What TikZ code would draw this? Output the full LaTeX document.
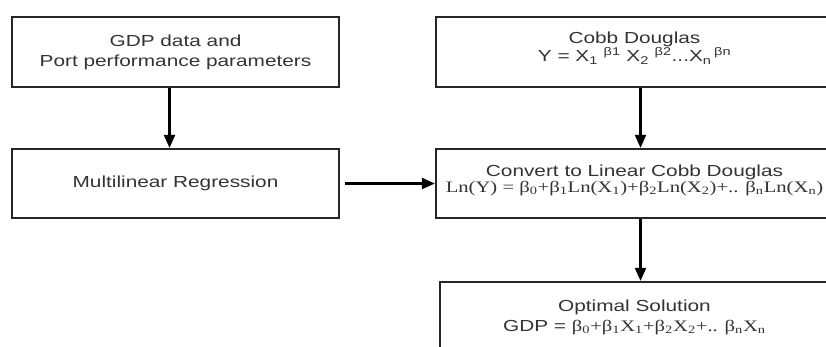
\documentclass[tikz,border=0pt]{standalone}
\usepackage{fontspec}
\usepackage{graphicx}
\setmainfont[FakeStretch=1.3]{Liberation Sans}
\newfontfamily\seriffam{Liberation Serif}
\newcommand{\serifeq}[1]{\scalebox{1.29}[1]{\seriffam\fontsize{16}{14}\selectfont #1}}
\usetikzlibrary{arrows.meta}
\begin{document}
\begin{tikzpicture}[x=1pt,y=-1pt]
\useasboundingbox (0,0) rectangle (826,347);
\clip (0,0) rectangle (826,347);
\tikzset{
  box/.style={draw=black!85, line width=2.2pt, inner sep=0pt},
  txt/.style={align=center, text=black!80, inner sep=0pt,
    font=\fontsize{16}{20}\selectfont},
  conn/.style={draw=black, line width=2.2pt, -{Triangle[length=13pt,width=11pt]}}
}
\node[box, minimum width=327pt, minimum height=70pt] (gdp) at (175.5,52) {};
\node[txt] (gdptext) at (gdp) {GDP data and\\Port performance parameters};
\node[box, minimum width=327pt, minimum height=69pt] (mlr) at (175.5,183.5) {};
\node[txt] (mlrtext) at (mlr) {Multilinear Regression};
\node[box, minimum width=397pt, minimum height=70pt] (cobb) at (634.5,52) {};
\node[txt, font=\fontsize{16}{14}\selectfont, yshift=4pt] (cobbtext) at (cobb)
  {Cobb Douglas\\Y = X\textsubscript{1} \textsuperscript{β1} X\textsubscript{2} \textsuperscript{β2}...X\textsubscript{n}\,\textsuperscript{βn}};
\node[box, minimum width=397pt, minimum height=69pt] (conv) at (634.5,183.5) {};
\node[txt, font=\fontsize{16}{14}\selectfont, yshift=3pt] (convtext) at (conv)
  {Convert to Linear Cobb Douglas\\\serifeq{Ln(Y) = β\textsubscript{0}+β\textsubscript{1}Ln(X\textsubscript{1})+β\textsubscript{2}Ln(X\textsubscript{2})+.. β\textsubscript{n}Ln(X\textsubscript{n})}};
\node[box, minimum width=389pt, minimum height=70pt] (opt) at (634.5,317) {};
\node[txt] (opttext) at (opt)
  {Optimal Solution\\GDP = \serifeq{β\textsubscript{0}+β\textsubscript{1}X\textsubscript{1}+β\textsubscript{2}X\textsubscript{2}+.. β\textsubscript{n}X\textsubscript{n}}};
\draw[conn] ([xshift=-6pt]gdp.south) -- ([xshift=-6pt]gdp.south |- mlr.north);
\draw[conn] ([xshift=6pt]cobb.south) -- ([xshift=6pt]cobb.south |- conv.north);
\draw[conn] ([xshift=6pt]conv.south) -- ([xshift=6pt]conv.south |- opt.north);
\draw[conn, shorten <=5pt] (mlr.east) -- (conv.west);
\end{tikzpicture}
\end{document}
